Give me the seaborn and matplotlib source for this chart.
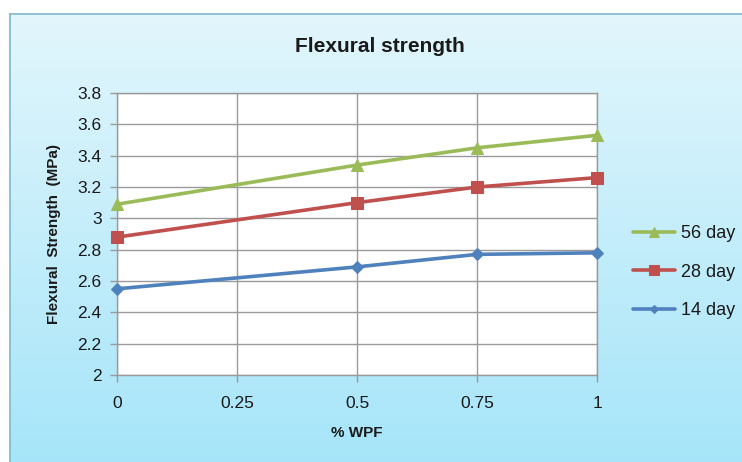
import numpy as np
import pandas as pd
import seaborn as sns
import matplotlib
matplotlib.use("Agg")
import matplotlib.pyplot as plt
from matplotlib.colors import LinearSegmentedColormap

wpf = [0, 0.5, 0.75, 1]
day56 = [3.09, 3.34, 3.45, 3.53]
day28 = [2.88, 3.10, 3.20, 3.26]
day14 = [2.55, 2.69, 2.77, 2.78]
series_names = ["56 day", "28 day", "14 day"]
x_ticks = [0, 0.25, 0.5, 0.75, 1]
y_ticks = [2, 2.2, 2.4, 2.6, 2.8, 3, 3.2, 3.4, 3.6, 3.8]

df = pd.DataFrame({
    "wpf": wpf * 3,
    "value": day56 + day28 + day14,
    "series": [series_names[0]] * 4 + [series_names[1]] * 4 + [series_names[2]] * 4,
})

sns.set_theme(style="white")
plt.rcParams['font.family'] = ['Liberation Sans', 'DejaVu Sans']

W, H = 742, 462
fig = plt.figure(figsize=(W / 100, H / 100), dpi=100)
fig.patch.set_facecolor("white")

# gradient background box
bg = fig.add_axes([10 / W, 0, 1 - 10 / W, 1 - 14 / H])
grad = np.linspace(0, 1, 256).reshape(-1, 1)
cmap = LinearSegmentedColormap.from_list("bg", ["#e2f6fc", "#a6e5f9"])
bg.imshow(grad, aspect="auto", cmap=cmap, extent=[0, 1, 0, 1], origin="upper")
bg.set_xticks([]); bg.set_yticks([])
for s in ["left", "top"]:
    bg.spines[s].set_color("#7fb6cc")
    bg.spines[s].set_linewidth(1.2)
for s in ["right", "bottom"]:
    bg.spines[s].set_visible(False)

ax = fig.add_axes([117 / W, 1 - 375 / H, (597 - 117) / W, (375 - 93) / H])
ax.set_facecolor("white")

palette = {"56 day": "#9bbb59", "28 day": "#c0504d", "14 day": "#4f81bd"}
markers = {"56 day": "^", "28 day": "s", "14 day": "D"}
sizes = {"56 day": 9, "28 day": 9, "14 day": 6}

for name in series_names:
    sub = df[df["series"] == name]
    sns.lineplot(data=sub, x="wpf", y="value", ax=ax, color=palette[name],
                 marker=markers[name], markersize=sizes[name], linewidth=2.6,
                 markeredgecolor=palette[name], label=name, clip_on=False, zorder=3)

ax.set_xlim(0, 1)
ax.set_ylim(2, 3.8)
ax.set_xticks(x_ticks)
ax.set_xticklabels(["0", "0.25", "0.5", "0.75", "1"])
ax.set_yticks(y_ticks)
ax.set_yticklabels(["2", "2.2", "2.4", "2.6", "2.8", "3", "3.2", "3.4", "3.6", "3.8"])
ax.grid(True, color="#9a9a9a", linewidth=1.0)
ax.set_axisbelow(True)
for s in ax.spines.values():
    s.set_color("#9a9a9a")
    s.set_linewidth(1.0)
ax.tick_params(axis="both", which="both", length=5, width=1, color="#9a9a9a",
               labelsize=12.5, labelcolor="#1a1a1a", direction="out", pad=6,
               left=True, bottom=True)
ax.tick_params(axis="x", pad=10)
ax.set_xlabel("% WPF", fontsize=11, fontweight="bold", color="#1a1a1a", labelpad=11)
ax.set_ylabel("Flexural  Strength  (MPa)", fontsize=11, fontweight="bold",
              color="#1a1a1a", labelpad=12)

fig.text(380 / W, 1 - 47 / H, "Flexural strength", ha="center", va="center",
         fontsize=15, fontweight="bold", color="#1a1a1a")

leg = ax.legend(loc="center left", bbox_to_anchor=(1.042, 0.365), frameon=False,
                fontsize=13, handlelength=2.3, labelspacing=1.2, handletextpad=0.35,
                markerscale=0.75)
for t in leg.get_texts():
    t.set_color("#1a1a1a")

fig.savefig("out.png", dpi=100)
